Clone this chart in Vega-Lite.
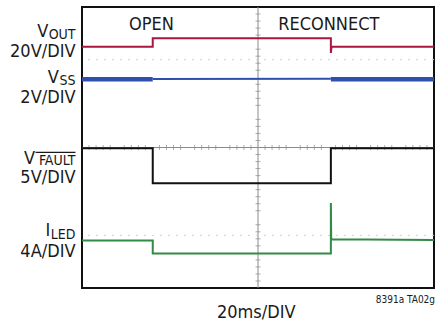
{
  "$schema": "https://vega.github.io/schema/vega-lite/v6.json",
  "width": 352,
  "height": 281,
  "autosize": {"type": "none"},
  "padding": {"left": 82, "top": 7, "right": 11, "bottom": 39},
  "background": "white",
  "config": {
    "view": {"stroke": "#111111", "strokeWidth": 2},
    "font": "Liberation Sans Narrow, Arial Narrow, DejaVu Sans Condensed, sans-serif"
  },
  "datasets": {
    "traces": [
      {"i": 1, "s": "VOUT", "seg": "a", "link": "on", "x": 0, "y": 6.87},
      {"i": 2, "s": "VOUT", "seg": "a", "link": "on", "x": 2.01, "y": 6.87},
      {"i": 3, "s": "VOUT", "seg": "a", "link": "on", "x": 2.01, "y": 7.11},
      {"i": 4, "s": "VOUT", "seg": "a", "link": "on", "x": 7.07, "y": 7.11},
      {"i": 5, "s": "VOUT", "seg": "a", "link": "on", "x": 7.07, "y": 6.69},
      {"i": 6, "s": "VOUT", "seg": "a", "link": "on", "x": 7.09, "y": 6.87},
      {"i": 7, "s": "VOUT", "seg": "a", "link": "on", "x": 10, "y": 6.87},
      {"i": 8, "s": "VSS", "seg": "a", "link": "noisy", "x": 0, "y": 5.94},
      {"i": 9, "s": "VSS", "seg": "a", "link": "noisy", "x": 2.01, "y": 5.94},
      {"i": 10, "s": "VSS", "seg": "b", "link": "on", "x": 2.01, "y": 5.95},
      {"i": 11, "s": "VSS", "seg": "b", "link": "on", "x": 7.07, "y": 5.96},
      {"i": 12, "s": "VSS", "seg": "c", "link": "noisy", "x": 7.07, "y": 5.94},
      {"i": 13, "s": "VSS", "seg": "c", "link": "noisy", "x": 10, "y": 5.94},
      {"i": 14, "s": "VFAULT", "seg": "a", "link": "on", "x": 0, "y": 3.98},
      {"i": 15, "s": "VFAULT", "seg": "a", "link": "on", "x": 2.01, "y": 3.98},
      {"i": 16, "s": "VFAULT", "seg": "a", "link": "on", "x": 2.01, "y": 2.98},
      {"i": 17, "s": "VFAULT", "seg": "a", "link": "on", "x": 7.07, "y": 2.98},
      {"i": 18, "s": "VFAULT", "seg": "a", "link": "on", "x": 7.07, "y": 3.98},
      {"i": 19, "s": "VFAULT", "seg": "a", "link": "on", "x": 10, "y": 3.98},
      {"i": 20, "s": "ILED", "seg": "a", "link": "on", "x": 0, "y": 1.35},
      {"i": 21, "s": "ILED", "seg": "a", "link": "on", "x": 2.01, "y": 1.35},
      {"i": 22, "s": "ILED", "seg": "a", "link": "on", "x": 2.01, "y": 0.98},
      {"i": 23, "s": "ILED", "seg": "a", "link": "on", "x": 7.07, "y": 0.98},
      {"i": 24, "s": "ILED", "seg": "a", "link": "on", "x": 7.07, "y": 2.42},
      {"i": 25, "s": "ILED", "seg": "a", "link": "on", "x": 7.08, "y": 1.39},
      {"i": 26, "s": "ILED", "seg": "a", "link": "on", "x": 10, "y": 1.37}
    ],
    "ticks": [0.2,0.4,0.6,0.8,1.2,1.4,1.6,1.8,2.2,2.4,2.6,2.8,3.2,3.4,3.6,3.8,4.2,4.4,4.6,4.8,5.2,5.4,5.6,5.8,6.2,6.4,6.6,6.8,7.2,7.4,7.6,7.8,8.2,8.4,8.6,8.8,9.2,9.4,9.6,9.8],
    "mains": [
      {"t": "V", "x": -0.96, "y": 7.146},
      {"t": "V", "x": -0.655, "y": 5.836},
      {"t": "V", "x": -1.33, "y": 3.53},
      {"t": "I", "x": -0.9, "y": 1.48}
    ],
    "subs": [
      {"t": "OUT", "x": -0.185, "y": 7.103},
      {"t": "SS", "x": -0.185, "y": 5.779},
      {"t": "FAULT", "x": -0.185, "y": 3.488},
      {"t": "LED", "x": -0.185, "y": 1.395}
    ],
    "scales": [
      {"t": "20V/DIV", "x": -0.185, "y": 6.577},
      {"t": "2V/DIV", "x": -0.185, "y": 5.267},
      {"t": "5V/DIV", "x": -0.185, "y": 2.989},
      {"t": "4A/DIV", "x": -0.185, "y": 0.883}
    ],
    "events": [
      {"t": "OPEN", "x": 1.97, "y": 7.345},
      {"t": "RECONNECT", "x": 7.01, "y": 7.345},
      {"t": "20ms/DIV", "x": 4.95, "y": -0.854}
    ]
  },
  "layer": [
    {
      "data": {"values": [{"x": 5}]},
      "mark": {"type": "rule", "color": "#8a8a8a", "strokeWidth": 1},
      "encoding": {
        "x": {"field": "x", "type": "quantitative", "scale": {"domain": [0, 10], "nice": false, "zero": false},
          "axis": {"title": null, "labels": false, "ticks": false, "domain": false, "grid": true,
            "values": [0,1,2,3,4,5,6,7,8,9,10], "gridColor": "#c4c4c4", "gridWidth": 1}}
      }
    },
    {
      "data": {"values": [{"y": 4}]},
      "mark": {"type": "rule", "color": "#8a8a8a", "strokeWidth": 1},
      "encoding": {
        "y": {"field": "y", "type": "quantitative", "scale": {"domain": [0, 8], "nice": false, "zero": false},
          "axis": {"title": null, "labels": false, "ticks": false, "domain": false, "grid": true,
            "values": [0,1,2,3,4,5,6,7,8], "gridColor": "#c4c4c4", "gridWidth": 1}}
      }
    },
    {
      "data": {"values": [{"y": 6.5}, {"y": 1.5}]},
      "mark": {"type": "rule", "color": "#d0d0d0", "strokeWidth": 1, "strokeDash": [2, 6]},
      "encoding": {"y": {"field": "y", "type": "quantitative", "axis": null}}
    },
    {
      "data": {"name": "ticks"},
      "mark": {"type": "tick", "orient": "vertical", "color": "#8a8a8a", "size": 5, "thickness": 1},
      "encoding": {
        "x": {"field": "data", "type": "quantitative", "axis": null},
        "y": {"datum": 4}
      }
    },
    {
      "data": {"name": "ticks"},
      "transform": [{"filter": "datum.data < 8"}],
      "mark": {"type": "tick", "orient": "horizontal", "color": "#8a8a8a", "size": 5, "thickness": 1},
      "encoding": {
        "y": {"field": "data", "type": "quantitative", "axis": null},
        "x": {"datum": 5}
      }
    },
    {
      "data": {"name": "traces"},
      "mark": {"type": "line", "strokeJoin": "miter", "strokeCap": "butt"},
      "encoding": {
        "x": {"field": "x", "type": "quantitative", "axis": null},
        "y": {"field": "y", "type": "quantitative", "axis": null},
        "order": {"field": "i", "type": "quantitative"},
        "detail": {"field": "seg"},
        "color": {"field": "s", "type": "nominal", "legend": null,
          "scale": {"domain": ["VOUT", "VSS", "VFAULT", "ILED"], "range": ["#a8173f", "#2f4fae", "#111111", "#318a45"]}},
        "strokeWidth": {"field": "link", "type": "nominal", "legend": null,
          "scale": {"domain": ["on", "noisy"], "range": [2, 4.5]}}
      }
    },
    {
      "data": {"name": "mains"},
      "mark": {"type": "text", "align": "right", "baseline": "alphabetic", "fontSize": 18, "color": "#1a1a1a"},
      "encoding": {
        "x": {"field": "x", "type": "quantitative", "axis": null},
        "y": {"field": "y", "type": "quantitative", "axis": null},
        "text": {"field": "t"}
      }
    },
    {
      "data": {"name": "subs"},
      "mark": {"type": "text", "align": "right", "baseline": "alphabetic", "fontSize": 14, "color": "#1a1a1a"},
      "encoding": {
        "x": {"field": "x", "type": "quantitative", "axis": null},
        "y": {"field": "y", "type": "quantitative", "axis": null},
        "text": {"field": "t"}
      }
    },
    {
      "data": {"values": [{"x": -1.32, "x2": -0.185, "y": 3.86}]},
      "mark": {"type": "rule", "color": "#1a1a1a", "strokeWidth": 1.2},
      "encoding": {
        "x": {"field": "x", "type": "quantitative", "axis": null},
        "x2": {"field": "x2"},
        "y": {"field": "y", "type": "quantitative", "axis": null}
      }
    },
    {
      "data": {"name": "scales"},
      "mark": {"type": "text", "align": "right", "baseline": "alphabetic", "fontSize": 18, "color": "#1a1a1a"},
      "encoding": {
        "x": {"field": "x", "type": "quantitative", "axis": null},
        "y": {"field": "y", "type": "quantitative", "axis": null},
        "text": {"field": "t"}
      }
    },
    {
      "data": {"name": "events"},
      "mark": {"type": "text", "align": "center", "baseline": "alphabetic", "fontSize": 18, "color": "#1a1a1a"},
      "encoding": {
        "x": {"field": "x", "type": "quantitative", "axis": null},
        "y": {"field": "y", "type": "quantitative", "axis": null},
        "text": {"field": "t"}
      }
    },
    {
      "data": {"values": [{"t": "8391a TA02g", "x": 10.03, "y": -0.43}]},
      "mark": {"type": "text", "align": "right", "baseline": "alphabetic", "fontSize": 10, "color": "#1a1a1a"},
      "encoding": {
        "x": {"field": "x", "type": "quantitative", "axis": null},
        "y": {"field": "y", "type": "quantitative", "axis": null},
        "text": {"field": "t"}
      }
    }
  ]
}
